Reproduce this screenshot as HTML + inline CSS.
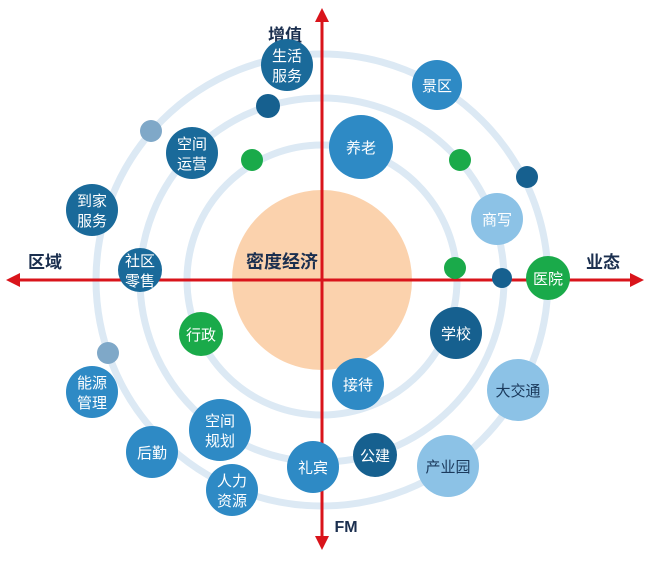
<!DOCTYPE html>
<html><head><meta charset="utf-8"><style>html,body{margin:0;padding:0;background:#fff}</style></head>
<body>
<svg width="650" height="558" viewBox="0 0 650 558" xmlns="http://www.w3.org/2000/svg" font-family="'Liberation Sans','Noto Sans CJK SC',sans-serif">
<circle cx="322" cy="280" r="90" fill="#fbd2ad"/>
<g fill="none" stroke="#dce9f4" stroke-width="7">
<circle cx="322" cy="280" r="135"/>
<circle cx="322" cy="280" r="182"/>
<circle cx="322" cy="280" r="226"/>
</g>
<g stroke="#d9141b" stroke-width="3" fill="#d9141b">
<line x1="16" y1="280" x2="634" y2="280"/>
<line x1="322" y1="18" x2="322" y2="540"/>
</g>
<g fill="#d9141b">
<polygon points="6,280 20,273 20,287"/>
<polygon points="644,280 630,273 630,287"/>
<polygon points="322,8 315,22 329,22"/>
<polygon points="322,550 315,536 329,536"/>
</g>
<g font-weight="bold" fill="#1b2f4f" font-size="17">
<text x="285" y="41" text-anchor="middle">增值</text>
<text x="45" y="268" text-anchor="middle">区域</text>
<text x="603" y="268" text-anchor="middle">业态</text>
<text x="346" y="532" text-anchor="middle" font-size="16">FM</text>
<text x="282" y="268" text-anchor="middle" font-size="18">密度经济</text>
</g>
<g>
<circle cx="268" cy="106" r="12" fill="#16608f"/>
<circle cx="151" cy="131" r="11" fill="#7fa8c8"/>
<circle cx="252" cy="160" r="11" fill="#1aaa4a"/>
<circle cx="460" cy="160" r="11" fill="#1aaa4a"/>
<circle cx="527" cy="177" r="11" fill="#16608f"/>
<circle cx="455" cy="268" r="11" fill="#1aaa4a"/>
<circle cx="502" cy="278" r="10" fill="#16608f"/>
<circle cx="108" cy="353" r="11" fill="#7fa8c8"/>
</g>
<g fill="#fff" font-size="15" text-anchor="middle">
<circle cx="287" cy="65" r="26" fill="#1a6a9a"/><text x="287" y="61">生活</text><text x="287" y="81">服务</text>
<circle cx="437" cy="85" r="25" fill="#2e8ac5"/><text x="437" y="91">景区</text>
<circle cx="361" cy="147" r="32" fill="#2e8ac5"/><text x="361" y="153">养老</text>
<circle cx="192" cy="153" r="26" fill="#1a6a9a"/><text x="192" y="149">空间</text><text x="192" y="169">运营</text>
<circle cx="497" cy="219" r="26" fill="#8cc2e6"/><text x="497" y="225">商写</text>
<circle cx="92" cy="210" r="26" fill="#1a6a9a"/><text x="92" y="206">到家</text><text x="92" y="226">服务</text>
<circle cx="140" cy="270" r="22" fill="#1a6a9a"/><text x="140" y="266">社区</text><text x="140" y="286">零售</text>
<circle cx="548" cy="278" r="22" fill="#1aaa4a"/><text x="548" y="284">医院</text>
<circle cx="201" cy="334" r="22" fill="#1aaa4a"/><text x="201" y="340">行政</text>
<circle cx="456" cy="333" r="26" fill="#16608f"/><text x="456" y="339">学校</text>
<circle cx="92" cy="392" r="26" fill="#2e8ac5"/><text x="92" y="388">能源</text><text x="92" y="408">管理</text>
<circle cx="358" cy="384" r="26" fill="#2e8ac5"/><text x="358" y="390">接待</text>
<circle cx="518" cy="390" r="31" fill="#8cc2e6"/><text x="518" y="396" fill="#1b3a5c">大交通</text>
<circle cx="220" cy="430" r="31" fill="#2e8ac5"/><text x="220" y="426">空间</text><text x="220" y="446">规划</text>
<circle cx="152" cy="452" r="26" fill="#2e8ac5"/><text x="152" y="458">后勤</text>
<circle cx="375" cy="455" r="22" fill="#16608f"/><text x="375" y="461">公建</text>
<circle cx="313" cy="467" r="26" fill="#2e8ac5"/><text x="313" y="473">礼宾</text>
<circle cx="448" cy="466" r="31" fill="#8cc2e6"/><text x="448" y="472" fill="#1b3a5c">产业园</text>
<circle cx="232" cy="490" r="26" fill="#2e8ac5"/><text x="232" y="486">人力</text><text x="232" y="506">资源</text>
</g>
</svg>
</body></html>
